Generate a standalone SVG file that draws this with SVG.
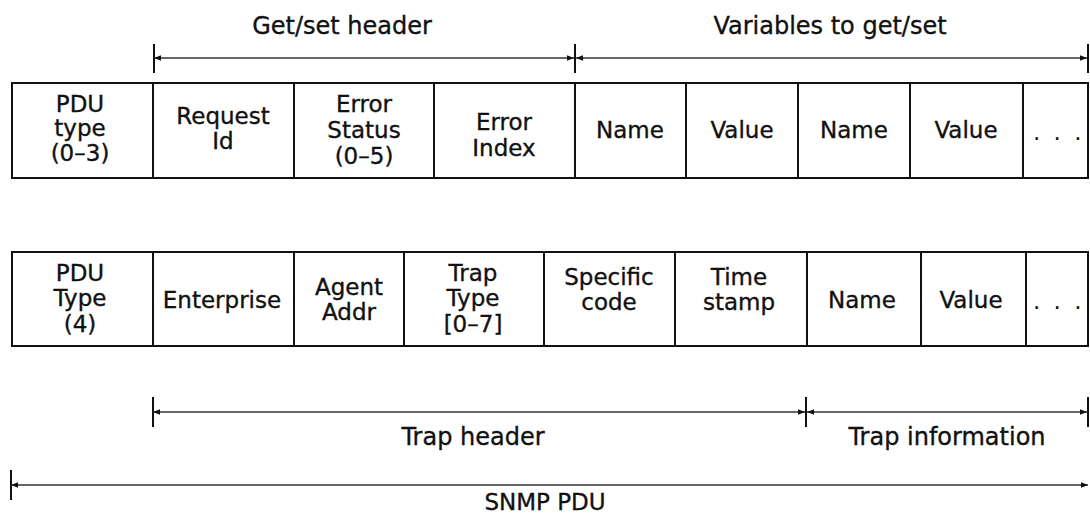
<svg xmlns="http://www.w3.org/2000/svg" width="1090" height="517" viewBox="0 0 1090 517">
<style>
  .cell { fill: #fff; stroke: #111; stroke-width: 2; }
  .t { font-family: "DejaVu Sans", "Liberation Sans", sans-serif; font-size: 23px; fill: #111; stroke: #111; stroke-width: 0.35; text-anchor: middle; }
  .lbl { font-family: "DejaVu Sans", "Liberation Sans", sans-serif; font-size: 24px; fill: #111; stroke: #111; stroke-width: 0.35; text-anchor: middle; }
  .dots { font-family: "DejaVu Sans", sans-serif; font-size: 23px; fill: #111; letter-spacing: 3px; }
  .dim { stroke: #333; stroke-width: 1.3; fill: none; }
  .bar { stroke: #111; stroke-width: 2; }
</style>
<defs>
  <marker id="ah" viewBox="0 0 10 10" refX="10" refY="5" markerWidth="10" markerHeight="7" markerUnits="userSpaceOnUse" orient="auto-start-reverse">
    <path d="M0,1 L10,5 L0,9 z" fill="#111"/>
  </marker>
</defs>
<rect width="1090" height="517" fill="#fff"/>

<!-- Row 1: Get/Set PDU -->
<g id="r1-pdutype"><rect class="cell" x="12" y="83" width="141" height="95"/>
  <text class="t" x="80" y="112">PDU</text><text class="t" x="80" y="136">type</text><text class="t" x="80" y="161">(0–3)</text></g>
<g id="r1-requestid"><rect class="cell" x="153" y="83" width="141" height="95"/>
  <text class="t" x="223" y="124">Request</text><text class="t" x="223" y="149">Id</text></g>
<g id="r1-errorstatus"><rect class="cell" x="294" y="83" width="140" height="95"/>
  <text class="t" x="364" y="112">Error</text><text class="t" x="364" y="138">Status</text><text class="t" x="364" y="164">(0–5)</text></g>
<g id="r1-errorindex"><rect class="cell" x="434" y="83" width="141" height="95"/>
  <text class="t" x="504" y="130">Error</text><text class="t" x="504" y="156">Index</text></g>
<g id="r1-name1"><rect class="cell" x="575" y="83" width="111" height="95"/>
  <text class="t" x="630" y="138">Name</text></g>
<g id="r1-value1"><rect class="cell" x="686" y="83" width="112" height="95"/>
  <text class="t" x="742" y="138">Value</text></g>
<g id="r1-name2"><rect class="cell" x="798" y="83" width="112" height="95"/>
  <text class="t" x="854" y="138">Name</text></g>
<g id="r1-value2"><rect class="cell" x="910" y="83" width="113" height="95"/>
  <text class="t" x="966" y="138">Value</text></g>
<g id="r1-more"><rect class="cell" x="1023" y="83" width="65" height="95"/>
  <text class="dots" x="1033" y="140">. . .</text></g>

<!-- Row 2: Trap PDU -->
<g id="r2-pdutype"><rect class="cell" x="12" y="252" width="141" height="94"/>
  <text class="t" x="80" y="281">PDU</text><text class="t" x="80" y="306">Type</text><text class="t" x="80" y="332">(4)</text></g>
<g id="r2-enterprise"><rect class="cell" x="153" y="252" width="141" height="94"/>
  <text class="t" x="222" y="308">Enterprise</text></g>
<g id="r2-agentaddr"><rect class="cell" x="294" y="252" width="110" height="94"/>
  <text class="t" x="349" y="295">Agent</text><text class="t" x="349" y="320">Addr</text></g>
<g id="r2-traptype"><rect class="cell" x="404" y="252" width="140" height="94"/>
  <text class="t" x="473" y="281">Trap</text><text class="t" x="473" y="306">Type</text><text class="t" x="473" y="332">[0–7]</text></g>
<g id="r2-specific"><rect class="cell" x="544" y="252" width="131" height="94"/>
  <text class="t" x="609" y="285">Specific</text><text class="t" x="609" y="310">code</text></g>
<g id="r2-timestamp"><rect class="cell" x="675" y="252" width="132" height="94"/>
  <text class="t" x="739" y="285">Time</text><text class="t" x="739" y="310">stamp</text></g>
<g id="r2-name"><rect class="cell" x="807" y="252" width="114" height="94"/>
  <text class="t" x="862" y="308">Name</text></g>
<g id="r2-value"><rect class="cell" x="921" y="252" width="105" height="94"/>
  <text class="t" x="971" y="308">Value</text></g>
<g id="r2-more"><rect class="cell" x="1026" y="252" width="62" height="94"/>
  <text class="dots" x="1033" y="309">. . .</text></g>

<!-- Labels -->
<g id="labels">
  <text class="lbl" x="342" y="34">Get/set header</text>
  <text class="lbl" x="830" y="34">Variables to get/set</text>
  <text class="lbl" x="473" y="445">Trap header</text>
  <text class="lbl" x="947" y="445">Trap information</text>
  <text class="lbl" x="545" y="510" style="font-size:23px">SNMP PDU</text>
</g>

<!-- Dimension connectors -->
<g id="connectors">
  <line class="bar" x1="154" y1="44" x2="154" y2="73"/>
  <line class="bar" x1="575" y1="44" x2="575" y2="73"/>
  <line class="bar" x1="1088" y1="44" x2="1088" y2="73"/>
  <line class="dim" x1="154" y1="58" x2="574" y2="58" marker-start="url(#ah)" marker-end="url(#ah)"/>
  <line class="dim" x1="576" y1="58" x2="1087" y2="58" marker-start="url(#ah)" marker-end="url(#ah)"/>

  <line class="bar" x1="153" y1="397" x2="153" y2="427"/>
  <line class="bar" x1="806" y1="397" x2="806" y2="427"/>
  <line class="bar" x1="1088" y1="397" x2="1088" y2="427"/>
  <line class="dim" x1="153" y1="412" x2="805" y2="412" marker-start="url(#ah)" marker-end="url(#ah)"/>
  <line class="dim" x1="807" y1="412" x2="1087" y2="412" marker-start="url(#ah)" marker-end="url(#ah)"/>

  <line class="bar" x1="11" y1="470" x2="11" y2="500"/>
  <line class="dim" x1="11" y1="485" x2="1088" y2="485" marker-start="url(#ah)" marker-end="url(#ah)"/>
</g>
</svg>
